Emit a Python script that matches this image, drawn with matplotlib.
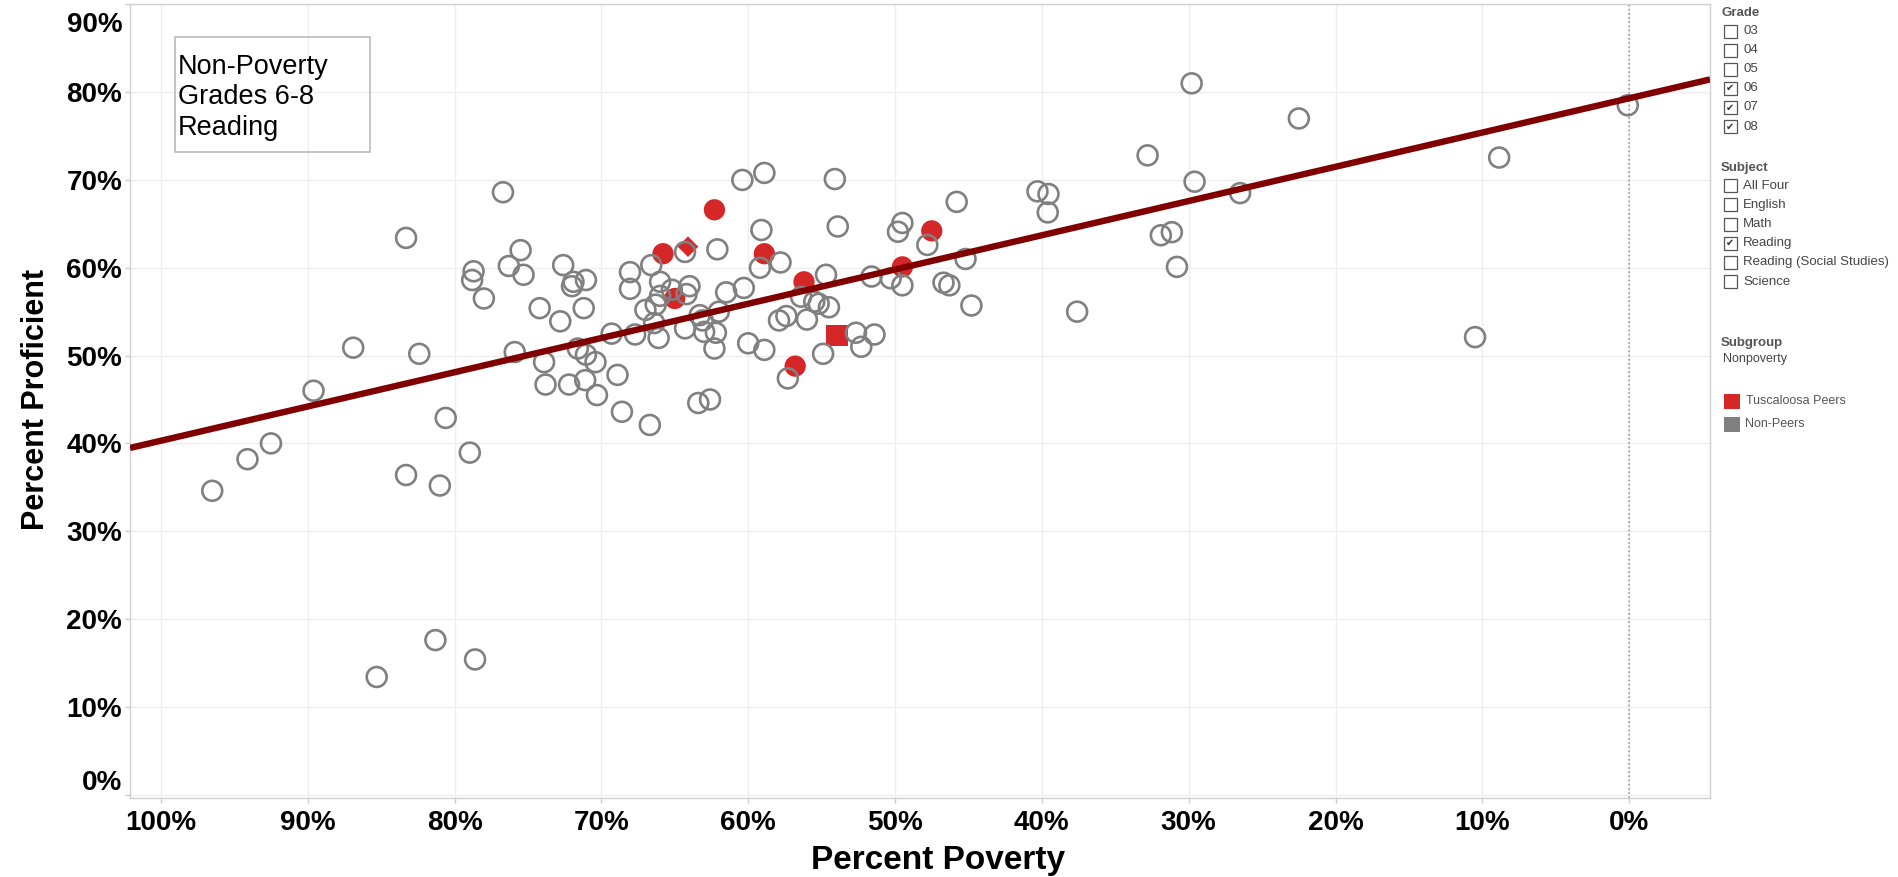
import matplotlib
matplotlib.use('Agg')
import matplotlib.pyplot as plt
import matplotlib.transforms as mtransforms
from matplotlib.patches import Rectangle

# non-peer districts: percent poverty vs percent proficient
gray_poverty = [
    86.9, 82.4, 75.9, 89.6, 80.6, 78.96, 92.5, 94.1, 96.5, 83.3, 81.0, 81.3, 78.6, 85.3,
    83.3, 76.7, 78.7, 78.8, 78.0, 76.3, 75.5, 75.3, 74.2, 72.8, 72.6, 72.0, 71.9, 71.05,
    71.2, 69.3, 67.7, 68.05, 68.05, 66.6, 67.0, 66.7, 71.6, 71.05, 70.4, 73.9, 73.8, 72.2,
    71.1, 70.3, 68.9, 68.6,
    60.4, 58.9, 54.1, 59.1, 53.9, 45.8, 49.5, 49.8, 47.8, 64.3, 62.1, 59.2, 57.8, 66.0,
    66.0, 65.2, 64.0, 64.2, 66.3, 66.4, 66.1, 64.3, 63.3, 63.1, 63.0, 62.2, 62.0, 62.3,
    61.5, 60.3, 60.0, 58.9, 63.4, 62.6, 57.9, 57.4, 56.0, 56.4, 55.5, 55.2, 54.7, 54.5,
    57.3, 54.9, 52.66, 52.3, 51.4, 51.6, 50.3, 49.5, 46.7, 46.3, 45.2, 44.8,
    29.8, 22.5, 32.8, 29.6, 26.5, 40.3, 39.55, 39.6, 31.9, 31.15, 30.8, 37.6,
    0.1, 8.86, 10.5,
]
gray_proficient = [
    50.9, 50.2, 50.4, 46.0, 42.9, 38.95, 40.0, 38.2, 34.6, 36.4, 35.2, 17.6, 15.4, 13.4,
    63.4, 68.6, 59.6, 58.6, 56.5, 60.2, 62.0, 59.2, 55.4, 53.9, 60.3, 57.9, 58.4, 58.6,
    55.4, 52.5, 52.4, 59.5, 57.6, 60.3, 55.2, 42.1, 50.8, 50.1, 49.25, 49.25, 46.7, 46.7,
    47.2, 45.5, 47.8, 43.6,
    70.0, 70.8, 70.1, 64.3, 64.7, 67.5, 65.1, 64.1, 62.6, 61.8, 62.1, 60.0, 60.6, 58.4,
    56.8, 57.5, 57.9, 57.0, 55.8, 53.7, 52.0, 53.1, 54.6, 54.0, 52.7, 52.6, 55.0, 50.8,
    57.2, 57.7, 51.4, 50.65, 44.6, 45.0, 54.0, 54.5, 54.1, 56.7, 56.15, 55.9, 59.2, 55.5,
    47.4, 50.2, 52.6, 51.0, 52.4, 59.0, 58.8, 58.0, 58.3, 58.0, 61.0, 55.7,
    81.0, 77.0, 72.8, 69.8, 68.5, 68.7, 68.4, 66.3, 63.7, 64.05, 60.1, 55.0,
    78.5, 72.55, 52.1,
]

# Tuscaloosa peers
peer_circle_poverty = [62.3, 65.8, 58.9, 65.0, 56.2, 47.5, 49.5, 56.8]
peer_circle_proficient = [66.6, 61.6, 61.6, 56.5, 58.4, 64.2, 60.1, 48.8]
peer_diamond_poverty = [64.1]
peer_diamond_proficient = [62.4]
peer_square_poverty = [53.96]
peer_square_proficient = [52.3]

# trend line
trend_intercept = 79.3
trend_slope = -0.39

x_ticks = [100, 90, 80, 70, 60, 50, 40, 30, 20, 10, 0]
y_ticks = [0, 10, 20, 30, 40, 50, 60, 70, 80, 90]

grade_labels = ['03', '04', '05', '06', '07', '08']
grade_checked = [False, False, False, True, True, True]
subject_labels = ['All Four', 'English', 'Math', 'Reading',
                  'Reading (Social Studies)', 'Science']
subject_checked = [False, False, False, True, False, False]

W, H = 1898, 877
RED = '#d62728'
GRAY = '#808080'
TREND = '#800000'

plt.rcParams['font.family'] = ['Liberation Sans', 'DejaVu Sans']


def fx(x):
    return x / W


def fy(y):
    return 1 - y / H


fig = plt.figure(figsize=(W / 100, H / 100), dpi=100)
ax = fig.add_axes([fx(130), fy(798), (1710 - 130) / W, (798 - 4.3) / H])

xlim = (102.1, -5.5)
ax.set_xlim(*xlim)
ax.set_ylim(-0.38, 90.0)

ax.axvline(0, color='#9a9a9a', lw=1.2, ls=(0, (1, 1.5)), zorder=2)

ax.scatter(peer_circle_poverty, peer_circle_proficient, s=235, marker='o',
           color=RED, edgecolors='none', zorder=3)
ax.scatter(peer_diamond_poverty, peer_diamond_proficient, s=110, marker='D',
           color=RED, edgecolors='none', zorder=3)
ax.scatter(peer_square_poverty, peer_square_proficient, s=240, marker='s',
           color=RED, edgecolors='none', zorder=3)
ax.scatter(gray_poverty, gray_proficient, s=205, marker='o',
           facecolors='none', edgecolors=GRAY, linewidths=1.9, zorder=4)

ax.plot(xlim, [trend_intercept + trend_slope * x for x in xlim],
        color=TREND, lw=4.6, solid_capstyle='butt', zorder=5)

ax.set_xticks(x_ticks)
ax.set_xticklabels([f'{t}%' for t in x_ticks])
ax.set_yticks(y_ticks)
ax.set_yticklabels([f'{t}%' for t in y_ticks])
ax.grid(True, color='#eeeeee', lw=1, zorder=0)
ax.set_axisbelow(True)
ax.tick_params(axis='both', length=3.6, width=1, color='#cccccc',
               labelsize=20)
ax.tick_params(axis='x', pad=5)
ax.tick_params(axis='y', pad=2)
for lab in ax.get_xticklabels() + ax.get_yticklabels():
    lab.set_fontweight('bold')
for sp in ax.spines.values():
    sp.set_color('#d0d0d0')
    sp.set_linewidth(1)

# Tableau keeps the end labels inside the pane
ylabs = ax.get_yticklabels()
up = mtransforms.ScaledTranslation(0, 0.15, fig.dpi_scale_trans)
down = mtransforms.ScaledTranslation(0, -0.18, fig.dpi_scale_trans)
ylabs[0].set_transform(ylabs[0].get_transform() + up)
ylabs[-1].set_transform(ylabs[-1].get_transform() + down)

fig.text(fx(938), fy(860), 'Percent Poverty', ha='center', va='center',
         fontsize=24, fontweight='bold')
fig.text(fx(36), fy(399), 'Percent Proficient', ha='center', va='center',
         rotation=90, fontsize=22, fontweight='bold')

# caption box
fig.add_artist(Rectangle((fx(175), fy(151.7)), (370 - 175) / W, (151.7 - 36.7) / H,
                         transform=fig.transFigure, fill=False,
                         edgecolor='#bbbbbb', lw=1.2))
for line, base in zip(['Non-Poverty', 'Grades 6-8', 'Reading'], [73.5, 104, 135]):
    fig.text(fx(178), fy(base), line, ha='left', va='baseline', fontsize=19.5)


# filter panel on the right
def header(text, y):
    fig.text(fx(1721), fy(y), text, ha='left', va='center', fontsize=9.5,
             fontweight='bold', color='#555555')


def checklist(labels, checked, y0, step):
    for i, (lab, chk) in enumerate(zip(labels, checked)):
        y = y0 + i * step
        fig.add_artist(Rectangle((fx(1723.5), fy(y + 6.5)), 13 / W, 13 / H,
                                 transform=fig.transFigure, fill=False,
                                 edgecolor='#555555', lw=0.9))
        if chk:
            fig.text(fx(1730), fy(y), '\u2714', ha='center', va='center',
                     fontsize=7, color='#333333', family='DejaVu Sans')
        fig.text(fx(1743), fy(y), lab, ha='left', va='center', fontsize=9.5,
                 color='#444444')


header('Grade', 13)
checklist(grade_labels, grade_checked, 31, 19.1)
header('Subject', 168)
checklist(subject_labels, subject_checked, 185.7, 19.2)
header('Subgroup', 343)
fig.text(fx(1722.5), fy(359), 'Nonpoverty', ha='left', va='center',
         fontsize=9, color='#444444')

for name, col, y in [('Tuscaloosa Peers', RED, 401), ('Non-Peers', GRAY, 424)]:
    fig.add_artist(Rectangle((fx(1724), fy(y + 7.5)), 16 / W, 15 / H,
                             transform=fig.transFigure, color=col, lw=0))
    fig.text(fx(1745.5), fy(y), name, ha='left', va='center', fontsize=9,
             color='#555555')

fig.savefig('out.png', dpi=100)
